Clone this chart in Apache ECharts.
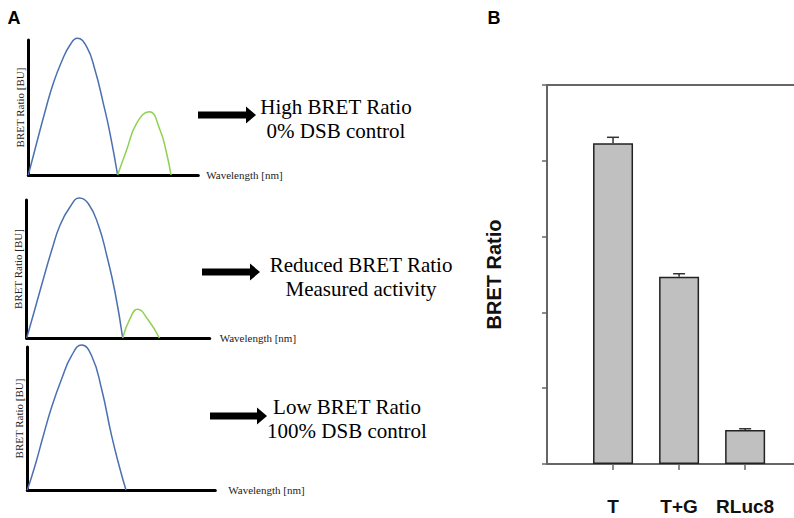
<!DOCTYPE html>
<html><head><meta charset="utf-8">
<script src="https://cdn.jsdelivr.net/npm/echarts@6/dist/echarts.min.js"></script>
<style>html,body{margin:0;padding:0;background:#fff}#c{width:794px;height:518px}</style>
</head><body><div id="c"></div>
<script>
// ---- Panel A: emission spectra (wavelength vs intensity, arbitrary units) ----
const spec1Donor = [[0,0],[8.3,31.7],[16.7,63.3],[25,91.7],[33.3,113.3],[41.7,130],[49,136.7],[58.3,128.3],[66.7,105],[75,71.7],[81.7,41.7],[89.3,0]];
const spec1Acceptor = [[89.3,0],[98.3,25],[108.3,51.7],[121,63.3],[131.7,45],[138.3,21.7],[142.7,0]];
const spec2Donor = [[0,0],[8.3,29.3],[16.7,59.3],[25,87.7],[33.3,112.7],[43.3,131],[52.7,140],[61.7,134.3],[71.7,112.7],[80,82.7],[88.3,46],[96,0]];
const spec2Acceptor = [[96,0],[103.3,19.3],[110.7,28.7],[121.7,17.7],[132.7,0]];
const spec3Donor = [[0,0],[7.7,24.3],[16,54.3],[24.3,82.7],[34.3,111],[44.3,134.3],[54.3,145],[64.3,134.3],[74.3,101],[84.3,54.3],[92.7,21],[98.7,0]];
const specXMax = [170, 183, 188];
const specYMax = [135, 138, 143];
const specXName = 'Wavelength [nm]';
const specYName = 'BRET Ratio [BU]';
const outcomeTexts = ['High BRET Ratio\n0% DSB control', 'Reduced BRET Ratio\nMeasured activity', 'Low BRET Ratio\n100% DSB control'];

// ---- Panel B: bar chart ----
const barCategories = ['T', 'T+G', 'RLuc8'];
const barValues = [4.23, 2.47, 0.45];
const barErrors = [0.08, 0.04, 0.015];
const barPositions = [1, 2, 3];
const xMax = 3.74;
const yMin = 0, yMax = 5, yInterval = 1;
const barYName = 'BRET Ratio';

const SERIF = "'Liberation Serif','Times New Roman',serif";
const SANS = "'Liberation Sans',Arial,sans-serif";
const BLUE = '#4a70b2', GREEN = '#8fd152';

const specGrids = [
  {left: 28.3, top: 40, width: 170, height: 135},
  {left: 26.7, top: 200, width: 183, height: 138},
  {left: 27.3, top: 347, width: 188, height: 143}
];
const xNameGaps = [8, 10, 13];

const grids = specGrids.concat([{left: 547, top: 85, right: 0, height: 379}]);
const xAxes = [], yAxes = [];
for (let i = 0; i < 3; i++) {
  xAxes.push({
    gridIndex: i, type: 'value', min: 0, max: specXMax[i],
    axisLine: {show: true, lineStyle: {color: '#000', width: 3}},
    axisTick: {show: false}, axisLabel: {show: false}, splitLine: {show: false},
    name: specXName, nameLocation: 'end', nameGap: xNameGaps[i],
    nameTextStyle: {fontFamily: SERIF, fontSize: 11, color: '#222', verticalAlign: 'middle'}
  });
  yAxes.push({
    gridIndex: i, type: 'value', min: 0, max: specYMax[i],
    axisLine: {show: true, lineStyle: {color: '#000', width: 3}},
    axisTick: {show: false}, axisLabel: {show: false}, splitLine: {show: false},
    name: specYName, nameLocation: 'middle', nameRotate: 90, nameGap: 3,
    nameTextStyle: {fontFamily: SERIF, fontSize: 11, color: '#222'}
  });
}
xAxes.push({
  gridIndex: 3, type: 'value', min: 0, max: xMax, interval: 1,
  axisLine: {show: true, onZero: false, lineStyle: {color: '#666', width: 2}},
  axisTick: {show: true, length: 6, customValues: barPositions, lineStyle: {color: '#666', width: 1.5}},
  axisLabel: {customValues: barPositions, margin: 33, fontFamily: SANS, fontSize: 19, fontWeight: 'bold', color: '#111',
    formatter: function (v) { const k = barPositions.indexOf(Math.round(v)); return k >= 0 ? barCategories[k] : ''; }},
  splitLine: {show: false}
});
xAxes.push({
  gridIndex: 3, type: 'value', min: 0, max: xMax, position: 'top',
  axisLine: {show: true, onZero: false, lineStyle: {color: '#666', width: 2}},
  axisTick: {show: false}, axisLabel: {show: false}, splitLine: {show: false}
});
yAxes.push({
  gridIndex: 3, type: 'value', min: yMin, max: yMax, interval: yInterval,
  axisLine: {show: true, onZero: false, lineStyle: {color: '#666', width: 2}},
  axisTick: {show: true, inside: false, length: 5, lineStyle: {color: '#666', width: 1.5}},
  axisLabel: {show: false}, splitLine: {show: false},
  name: barYName, nameLocation: 'middle', nameRotate: 90, nameGap: 43,
  nameTextStyle: {fontFamily: SANS, fontSize: 20, fontWeight: 'bold', color: '#111'}
});

function specLine(data, idx, color) {
  return {type: 'line', xAxisIndex: idx, yAxisIndex: idx, data: data, smooth: true,
    showSymbol: false, symbol: 'none', clip: false, silent: true,
    lineStyle: {color: color, width: 1.5}};
}

const series = [
  specLine(spec1Donor, 0, BLUE), specLine(spec1Acceptor, 0, GREEN),
  specLine(spec2Donor, 1, BLUE), specLine(spec2Acceptor, 1, GREEN),
  specLine(spec3Donor, 2, BLUE),
  {
    type: 'bar', xAxisIndex: 3, yAxisIndex: 3, barWidth: 40,
    data: barValues.map((v, i) => [barPositions[i], v]),
    itemStyle: {color: '#c0c0c0', borderColor: '#222', borderWidth: 1.5},
    silent: true
  },
  {
    type: 'custom', xAxisIndex: 3, yAxisIndex: 3, z: 5, silent: true,
    data: barValues.map((v, i) => [barPositions[i], v, barErrors[i]]),
    encode: {x: 0, y: 1},
    renderItem: function (params, api) {
      const x = api.value(0), v = api.value(1), e = api.value(2);
      const p0 = api.coord([x, v]), p1 = api.coord([x, v + e]);
      const st = {stroke: '#333', lineWidth: 1.5};
      return {type: 'group', children: [
        {type: 'line', shape: {x1: p0[0], y1: p0[1], x2: p1[0], y2: p1[1]}, style: st},
        {type: 'line', shape: {x1: p1[0] - 6, y1: p1[1], x2: p1[0] + 6, y2: p1[1]}, style: st}
      ]};
    }
  }
];

function arrow(x0, x1, cy) {
  const hx = x1 - 10;
  return {type: 'polygon', silent: true,
    shape: {points: [[x0, cy - 3.5], [hx, cy - 3.5], [hx, cy - 8.5], [x1, cy], [hx, cy + 8.5], [hx, cy + 3.5], [x0, cy + 3.5]]},
    style: {fill: '#000'}};
}
function label(txt, x, y, font) {
  return {type: 'text', x: x, y: y, silent: true,
    style: {text: txt, fill: '#000', align: 'center', textAlign: 'center', verticalAlign: 'middle', textVerticalAlign: 'middle',
      fontFamily: font.family, fontSize: font.size, fontWeight: font.weight || 'normal', lineHeight: font.lh || font.size}};
}
const serifBig = {family: SERIF, size: 21, lh: 24};
const graphics = [
  label('A', 14, 18, {family: SANS, size: 18, weight: 'bold'}),
  label('B', 494, 18, {family: SANS, size: 18, weight: 'bold'}),
  arrow(198, 256, 115), label(outcomeTexts[0], 336, 118.5, serifBig),
  arrow(202, 260, 272), label(outcomeTexts[1], 361, 277, serifBig),
  arrow(210, 267, 416), label(outcomeTexts[2], 347, 419, serifBig)
];

const chart = echarts.init(document.getElementById('c'), null, {renderer: 'svg'});
chart.setOption({
  animation: false,
  backgroundColor: '#fff',
  grid: grids,
  xAxis: xAxes,
  yAxis: yAxes,
  series: series,
  graphic: graphics
});
</script></body></html>
